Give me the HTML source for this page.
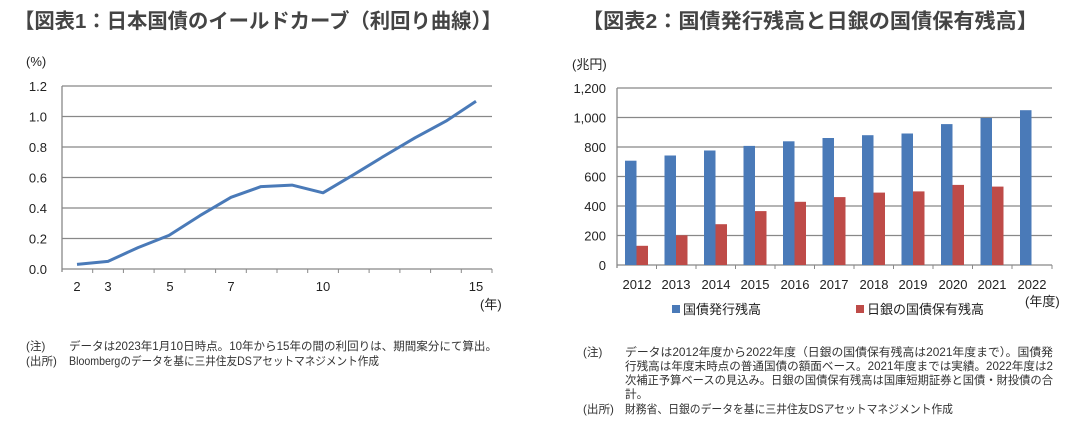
<!DOCTYPE html>
<html><head><meta charset="utf-8"><style>
body{margin:0;background:#fff;width:1087px;height:427px;overflow:hidden}
svg{display:block}
text{font-family:"Liberation Sans","Noto Sans CJK JP",sans-serif;fill:#222}
.t{font-size:20.5px;font-weight:bold;fill:#444}
.a{font-size:13px}
.n{font-size:11.6px;fill:#333}
</style></head><body>
<svg width="1087" height="427" viewBox="0 0 1087 427">
<text class="t" x="14" y="28" textLength="488" lengthAdjust="spacingAndGlyphs">【図表1：日本国債のイールドカーブ（利回り曲線）】</text>
<text class="t" x="582" y="28" textLength="456" lengthAdjust="spacingAndGlyphs">【図表2：国債発行残高と日銀の国債保有残高】</text>

<!-- Left chart -->
<g stroke="#888" stroke-width="1.3">
<line x1="62" y1="86" x2="492" y2="86"/>
<line x1="62" y1="116.5" x2="492" y2="116.5"/>
<line x1="62" y1="147" x2="492" y2="147"/>
<line x1="62" y1="177.5" x2="492" y2="177.5"/>
<line x1="62" y1="208" x2="492" y2="208"/>
<line x1="62" y1="238.5" x2="492" y2="238.5"/>
<line x1="62" y1="269" x2="492" y2="269"/>
<line x1="62" y1="86" x2="62" y2="272"/>
</g>
<g stroke="#888" stroke-width="1">
<line x1="92.7" y1="269" x2="92.7" y2="273"/><line x1="123.4" y1="269" x2="123.4" y2="273"/><line x1="154.1" y1="269" x2="154.1" y2="273"/><line x1="184.9" y1="269" x2="184.9" y2="273"/><line x1="215.6" y1="269" x2="215.6" y2="273"/><line x1="246.3" y1="269" x2="246.3" y2="273"/><line x1="277" y1="269" x2="277" y2="273"/><line x1="307.7" y1="269" x2="307.7" y2="273"/><line x1="338.4" y1="269" x2="338.4" y2="273"/><line x1="369.1" y1="269" x2="369.1" y2="273"/><line x1="399.9" y1="269" x2="399.9" y2="273"/><line x1="430.6" y1="269" x2="430.6" y2="273"/><line x1="461.3" y1="269" x2="461.3" y2="273"/><line x1="492" y1="269" x2="492" y2="273"/>
</g>
<g class="a" text-anchor="end">
<text x="47" y="91">1.2</text><text x="47" y="121.5">1.0</text><text x="47" y="152">0.8</text><text x="47" y="182.5">0.6</text><text x="47" y="213">0.4</text><text x="47" y="243.5">0.2</text><text x="47" y="274">0.0</text>
</g>
<text class="a" x="26" y="66">(%)</text>
<g class="a" text-anchor="middle">
<text x="77" y="291">2</text><text x="108" y="291">3</text><text x="170" y="291">5</text><text x="231" y="291">7</text><text x="323" y="291">10</text><text x="476" y="291">15</text>
</g>
<text class="a" x="480" y="309">(年)</text>
<polyline fill="none" stroke="#4a7ab8" stroke-width="3" stroke-linejoin="round" points="77,264.4 108,261.4 138,247.6 169,235.4 200,215.6 231,197.3 261,186.6 292,185.1 323,192.8 354,174.4 384,156.1 415,137.8 446,121.1 476,101.3"/>
<text class="n" x="26" y="350">(注)</text><text class="n" x="69" y="350" textLength="428" lengthAdjust="spacingAndGlyphs">データは2023年1月10日時点。10年から15年の間の利回りは、期間案分にて算出。</text>
<text class="n" x="26" y="365">(出所)</text><text class="n" x="69" y="365" textLength="310" lengthAdjust="spacingAndGlyphs">Bloombergのデータを基に三井住友DSアセットマネジメント作成</text>

<!-- Right chart -->
<g stroke="#888" stroke-width="1.3">
<line x1="617" y1="88" x2="1052" y2="88"/>
<line x1="617" y1="117.5" x2="1052" y2="117.5"/>
<line x1="617" y1="147" x2="1052" y2="147"/>
<line x1="617" y1="176.5" x2="1052" y2="176.5"/>
<line x1="617" y1="206" x2="1052" y2="206"/>
<line x1="617" y1="235.5" x2="1052" y2="235.5"/>
<line x1="617" y1="265" x2="1052" y2="265"/>
<line x1="617" y1="88" x2="617" y2="268"/>
</g>
<g class="a" text-anchor="end">
<text x="606" y="93">1,200</text><text x="606" y="122.5">1,000</text><text x="606" y="152">800</text><text x="606" y="181.5">600</text><text x="606" y="211">400</text><text x="606" y="240.5">200</text><text x="606" y="270">0</text>
</g>
<text class="a" x="572" y="69">(兆円)</text>
<rect x="672" y="305" width="8" height="8" fill="#4a7ab8"/><text class="a" x="683" y="314">国債発行残高</text>
<rect x="856" y="305" width="8" height="8" fill="#be4b48"/><text class="a" x="867" y="314">日銀の国債保有残高</text>
<text class="a" x="1025" y="306">(年度)</text>
<text class="n" x="583" y="356">(注)</text>
<text class="n" x="625" y="356" textLength="428" lengthAdjust="spacingAndGlyphs">データは2012年度から2022年度（日銀の国債保有残高は2021年度まで）。国債発</text>
<text class="n" x="625" y="370" textLength="428" lengthAdjust="spacingAndGlyphs">行残高は年度末時点の普通国債の額面ベース。2021年度までは実績。2022年度は2</text>
<text class="n" x="625" y="384" textLength="428" lengthAdjust="spacingAndGlyphs">次補正予算ベースの見込み。日銀の国債保有残高は国庫短期証券と国債・財投債の合</text>
<text class="n" x="625" y="398">計。</text>
<text class="n" x="583" y="413">(出所)</text><text class="n" x="625" y="413" textLength="328" lengthAdjust="spacingAndGlyphs">財務省、日銀のデータを基に三井住友DSアセットマネジメント作成</text>

<g fill="#4a7ab8">
<rect x="625" y="160.7" width="11.5" height="104.3"/>
<rect x="664.5" y="155.5" width="11.5" height="109.5"/>
<rect x="704" y="150.5" width="11.5" height="114.5"/>
<rect x="743.5" y="145.9" width="11.5" height="119.1"/>
<rect x="783" y="141.3" width="11.5" height="123.7"/>
<rect x="822.5" y="138" width="11.5" height="127"/>
<rect x="862" y="135.2" width="11.5" height="129.8"/>
<rect x="901.5" y="133.5" width="11.5" height="131.5"/>
<rect x="941" y="124.1" width="11.5" height="140.9"/>
<rect x="980.5" y="118" width="11.5" height="147"/>
<rect x="1020" y="110.2" width="11.5" height="154.8"/>
</g>
<g fill="#be4b48">
<rect x="636.5" y="245.8" width="11.5" height="19.2"/>
<rect x="676" y="235.3" width="11.5" height="29.7"/>
<rect x="715.5" y="224.2" width="11.5" height="40.8"/>
<rect x="755" y="211.1" width="11.5" height="53.9"/>
<rect x="794.5" y="201.8" width="11.5" height="63.2"/>
<rect x="834" y="197.1" width="11.5" height="67.9"/>
<rect x="873.5" y="192.6" width="11.5" height="72.4"/>
<rect x="913" y="191.4" width="11.5" height="73.6"/>
<rect x="952.5" y="184.9" width="11.5" height="80.1"/>
<rect x="992" y="186.6" width="11.5" height="78.4"/>
</g>
<g stroke="#888" stroke-width="1">
<line x1="656.5" y1="265" x2="656.5" y2="269"/><line x1="696" y1="265" x2="696" y2="269"/><line x1="735.5" y1="265" x2="735.5" y2="269"/><line x1="775" y1="265" x2="775" y2="269"/><line x1="814.5" y1="265" x2="814.5" y2="269"/><line x1="854" y1="265" x2="854" y2="269"/><line x1="893.5" y1="265" x2="893.5" y2="269"/><line x1="933" y1="265" x2="933" y2="269"/><line x1="972.5" y1="265" x2="972.5" y2="269"/><line x1="1012" y1="265" x2="1012" y2="269"/><line x1="1052" y1="265" x2="1052" y2="269"/>
</g>
<g class="a" text-anchor="middle">
<text x="637" y="289">2012</text><text x="676" y="289">2013</text><text x="716" y="289">2014</text><text x="755" y="289">2015</text><text x="795" y="289">2016</text><text x="834" y="289">2017</text><text x="874" y="289">2018</text><text x="913" y="289">2019</text><text x="953" y="289">2020</text><text x="992" y="289">2021</text><text x="1032" y="289">2022</text>
</g>
</svg>
</body></html>
